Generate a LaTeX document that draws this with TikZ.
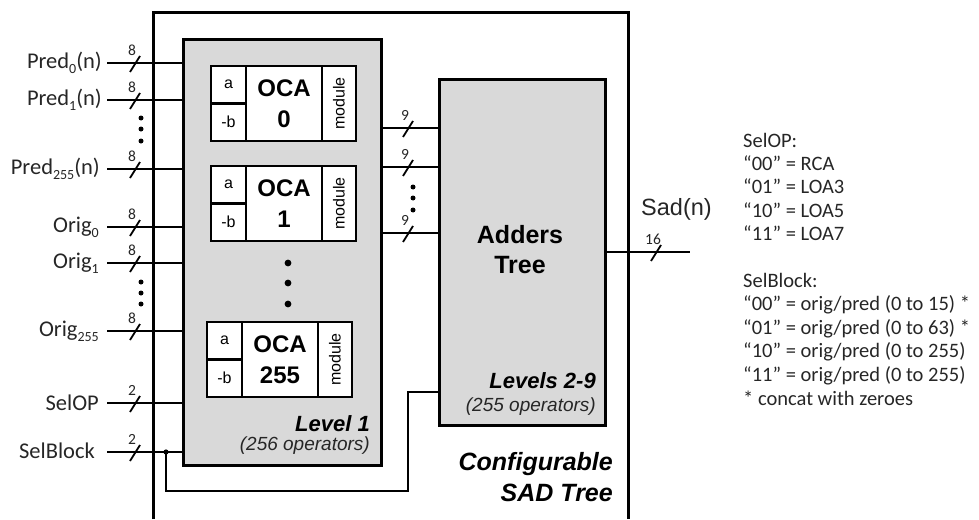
\documentclass[tikz,border=0pt]{standalone}
\usepackage{fontspec}
\setmainfont{Carlito}
\newfontfamily\arial{Liberation Sans}
\newcommand\sbs[1]{\raisebox{-0.25em}{\fontsize{14}{14}\selectfont #1}}
\definecolor{boxgray}{HTML}{D9D9D9}
\definecolor{txt}{HTML}{262626}
\tikzset{
  wire/.style={line width=2.6pt},
  thinwire/.style={line width=1.4pt},
  bigbox/.style={draw, line width=3pt, fill=boxgray, outer sep=0pt, inner sep=0pt, anchor=north west},
  cell/.style={draw, line width=2.4pt, fill=white, outer sep=0pt, inner sep=0pt, anchor=north west},
  lbl/.style={font=\fontsize{22.5}{24}\selectfont, text=txt, inner sep=0pt, anchor=base east},
  legend/.style={font=\fontsize{20.5}{24}\selectfont, text=txt, inner sep=0pt, anchor=base west},
  pics/bus/.style={code={
    \draw[line width=1.8pt] (-5,9) -- (5,-7);
    \node[font=\fontsize{15.5}{16}\selectfont, text=txt, inner sep=0pt] (-n) at (-3,-13) {#1};
  }},
  pics/oca/.style={code={
    \node[cell, minimum width=35pt, minimum height=37.5pt, font=\arial\fontsize{16}{16}\selectfont] (-a) at (0,0) {a};
    \node[cell, minimum width=35pt, minimum height=37.5pt, font=\arial\fontsize{16}{16}\selectfont] (-b) at (0,37.5) {-b};
    \node[cell, minimum width=76pt, minimum height=75pt, align=center, font=\arial\bfseries\fontsize{24}{31}\selectfont] (-main) at (35,0) {OCA\\#1};
    \node[cell, minimum width=34pt, minimum height=75pt] (-mod) at (111,0) {};
    \node[rotate=90, inner sep=0pt, font=\arial\fontsize{16}{16}\selectfont] (-modt) at (-mod.center) {module};
  }},
}
\begin{document}
\begin{tikzpicture}[x=1pt, y={(0pt,-1pt)}]
\useasboundingbox (0,0) rectangle (979,519);

% outer configurable SAD tree box (open at bottom)
\coordinate (obl) at (153,519);
\coordinate (otl) at (153,13);
\coordinate (otr) at (628,13);
\coordinate (obr) at (628,519);
\draw[line width=3pt] (obl) -- (otl) -- (otr) -- (obr);

% Level 1 box
\node[bigbox, minimum width=198pt, minimum height=425pt] (L1) at (183,40) {};
% Adders tree box
\node[bigbox, minimum width=166pt, minimum height=346pt] (AT) at (439,79) {};

% OCA blocks
\pic (oca0) at (211,66) {oca=0};
\pic (oca1) at (211,166) {oca=1};
\pic (oca255) at (207,322) {oca=255};
\fill (288,263) circle (3.4) (288,283) circle (3.4) (288,304) circle (3.4);

% inputs
\foreach \n/\y/\w in {p0/63/8, p1/100/8, p255/169/8, o0/227/8, o1/263/8, o255/331/8, sop/403/2, sbl/452/2}{
  \coordinate (\n) at (107,\y);
  \draw[wire] (\n) -- (\n -| L1.west);
  \pic (bus\n) at (135,\y) {bus=\w};
}
\fill (141,118) circle (2.5) (141,129) circle (2.5) (141,141) circle (2.5);
\fill (141,282) circle (2.5) (141,293) circle (2.5) (141,304) circle (2.5);

\node[lbl] (tp0) at (102,68) {Pred\sbs{0}(n)};
\node[lbl] (tp1) at (102,105) {Pred\sbs{1}(n)};
\node[lbl] (tp255) at (100,174) {Pred\sbs{255}(n)};
\node[lbl] (to0) at (99,232) {Orig\sbs{0}};
\node[lbl] (to1) at (99,268) {Orig\sbs{1}};
\node[lbl] (to255) at (99,336) {Orig\sbs{255}};
\node[lbl] (tsop) at (99,410) {SelOP};
\node[lbl] (tsbl) at (95,458) {SelBlock};

% SelBlock feedback to adders tree
\coordinate (jn) at (166,452);
\coordinate (fb1) at (166,491);
\coordinate (fb2) at (408,491);
\coordinate (fb3) at (408,392);
\fill (jn) circle (2.6);
\draw[thinwire] (jn) -- (fb1) -- (fb2) -- (fb3) -- (fb3 -| AT.west);

% level 1 -> adders tree
\foreach \n/\y in {m0/128, m1/167, m2/233}{
  \coordinate (\n) at (L1.east |- 0,\y);
  \draw[wire] (\n) -- (\n -| AT.west);
  \pic (bus\n) at (408,\y) {bus=9};
}
\fill (413,187) circle (2.5) (413,198) circle (2.5) (413,210) circle (2.5);

% output
\coordinate (sad) at (690,252);
\draw[wire] (AT.east |- sad) -- (sad);
\pic (bussad) at (656,252) {bus=16};
\node[font=\arial\fontsize{23.5}{24}\selectfont, text=txt, inner sep=0pt, anchor=base west] (tsad) at (641,215) {Sad(n)};

% texts in boxes
\node[font=\arial\bfseries\fontsize{25}{30}\selectfont, inner sep=0pt, anchor=base] (tat1) at (520,243) {Adders};
\node[font=\arial\bfseries\fontsize{25}{30}\selectfont, inner sep=0pt, anchor=base] (tat2) at (520,273) {Tree};
\node[font=\arial\bfseries\itshape\fontsize{22}{24}\selectfont, inner sep=0pt, anchor=base east] (tl1) at (370,431) {Level 1};
\node[font=\arial\itshape\fontsize{19}{22}\selectfont, inner sep=0pt, text=txt, anchor=base east] (tl1b) at (370,450) {(256 operators)};
\node[font=\arial\bfseries\itshape\fontsize{22}{24}\selectfont, inner sep=0pt, anchor=base east] (tl2) at (596,388) {Levels 2-9};
\node[font=\arial\itshape\fontsize{19}{22}\selectfont, inner sep=0pt, text=txt, anchor=base east] (tl2b) at (596,411) {(255 operators)};
\node[font=\arial\bfseries\itshape\fontsize{25}{30}\selectfont, inner sep=0pt, anchor=base east] (tc1) at (613,470) {Configurable};
\node[font=\arial\bfseries\itshape\fontsize{25}{30}\selectfont, inner sep=0pt, anchor=base east] (tc2) at (613,501) {SAD Tree};

% legend
\foreach \t [count=\i from 0] in {SelOP:,“00” = RCA,“01” = LOA3,“10” = LOA5,“11” = LOA7}
  \node[legend] (lo\i) at (743,{147+23.4*\i}) {\t};
\foreach \t [count=\i from 0] in {SelBlock:,“00” = orig/pred (0 to 15) *,“01” = orig/pred (0 to 63) *,“10” = orig/pred (0 to 255),“11” = orig/pred (0 to 255),* concat with zeroes}
  \node[legend] (lb\i) at (743,{287+23.6*\i}) {\t};
\end{tikzpicture}
\end{document}
